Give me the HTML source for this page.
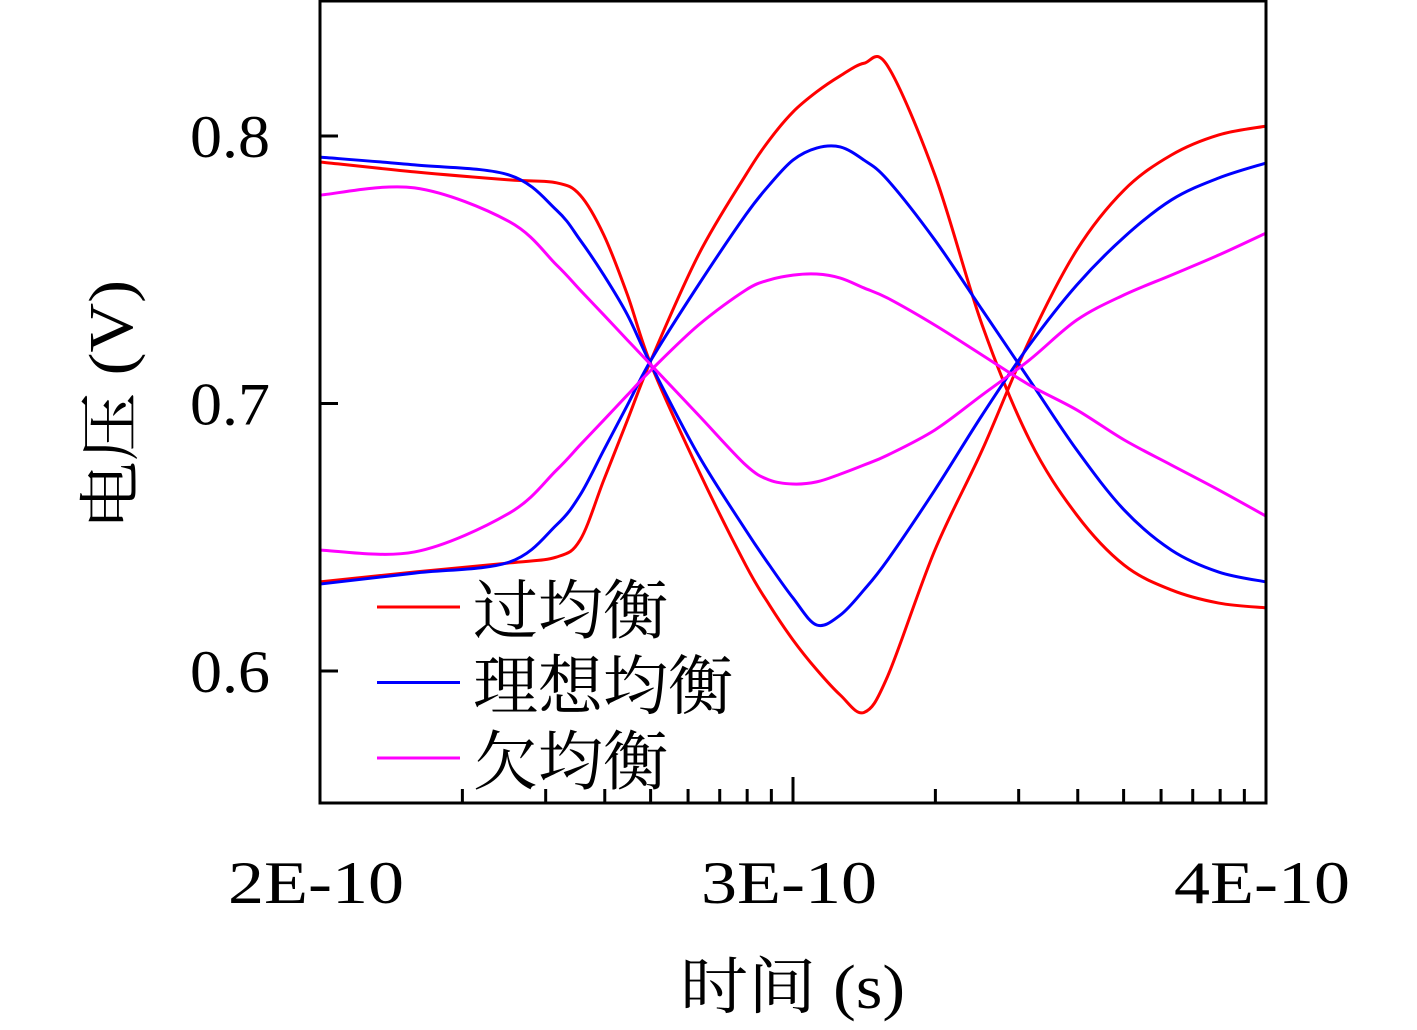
<!DOCTYPE html>
<html><head><meta charset="utf-8"><style>
body{margin:0;background:#fff}
svg text{font-family:"Liberation Serif","Noto Serif CJK SC",serif;fill:#000}
</style></head><body>
<svg id="chart" width="1417" height="1025" viewBox="0 0 1417 1025" xmlns="http://www.w3.org/2000/svg">
<g id="plot"></g>
<g id="axes"></g>
<g id="legend"></g>
</svg>
<script>
const times = [2.0,2.2,2.4,2.5,2.55,2.6,2.65,2.7,2.8,2.9,2.95,3.0,3.05,3.1,3.15,3.2,3.3,3.4,3.5,3.6,3.7,3.8,3.9,4.0];
const overA = [0.7903,0.7866,0.7836,0.7825,0.7779,0.7630,0.7406,0.7144,0.6751,0.6396,0.6247,0.6116,0.6005,0.5910,0.5845,0.5980,0.6452,0.6826,0.7237,0.7574,0.7798,0.7929,0.8004,0.8037];
const overB = [0.6333,0.6370,0.6404,0.6426,0.6490,0.6714,0.6938,0.7163,0.7555,0.7854,0.7985,0.8090,0.8165,0.8225,0.8272,0.8262,0.7854,0.7293,0.6864,0.6583,0.6396,0.6303,0.6254,0.6236];
const idealA = [0.7921,0.7892,0.7854,0.7723,0.7611,0.7480,0.7331,0.7144,0.6807,0.6527,0.6396,0.6273,0.6172,0.6209,0.6303,0.6415,0.6677,0.6957,0.7219,0.7443,0.7622,0.7761,0.7843,0.7899];
const idealB = [0.6325,0.6366,0.6407,0.6546,0.6658,0.6826,0.6994,0.7163,0.7443,0.7705,0.7817,0.7910,0.7955,0.7959,0.7910,0.7836,0.7611,0.7350,0.7088,0.6826,0.6602,0.6452,0.6370,0.6333];
const underA = [0.7779,0.7806,0.7680,0.7518,0.7424,0.7331,0.7237,0.7144,0.6957,0.6770,0.6714,0.6699,0.6707,0.6736,0.6770,0.6807,0.6901,0.7032,0.7163,0.7312,0.7406,0.7480,0.7555,0.7637];
const underB = [0.6452,0.6445,0.6590,0.6751,0.6845,0.6938,0.7032,0.7125,0.7293,0.7424,0.7462,0.7480,0.7484,0.7469,0.7432,0.7394,0.7293,0.7181,0.7069,0.6976,0.6864,0.6770,0.6677,0.6579];
const yTicks = [0.6,0.7,0.8];
const yTickLabels = ["0.6","0.7","0.8"];
const xTicks = [2,3,4];
const xTickLabels = ["2E-10","3E-10","4E-10"];
const legendLabels = ["过均衡","理想均衡","欠均衡"];

const L=320,R=1266,T=0,B=803;
const xs = t => L+(t-2)/2*(R-L);
const ys = v => 136+(0.8-v)*2675;
const NS="http://www.w3.org/2000/svg";
function mk(tag,attrs,parent){const e=document.createElementNS(NS,tag);for(const k in attrs)e.setAttribute(k,attrs[k]);parent.appendChild(e);return e;}
const plot=document.getElementById('plot'),axes=document.getElementById('axes'),legend=document.getElementById('legend');
function pathFor(vals){
  const p=times.map((t,i)=>[xs(t),ys(vals[i])]);
  let d=`M${p[0][0]},${p[0][1]}`;
  for(let i=0;i<p.length-1;i++){
    const p0=p[i-1]||p[i],p1=p[i],p2=p[i+1],p3=p[i+2]||p[i+1];
    const c1=[p1[0]+(p2[0]-p0[0])/6,p1[1]+(p2[1]-p0[1])/6];
    const c2=[p2[0]-(p3[0]-p1[0])/6,p2[1]-(p3[1]-p1[1])/6];
    d+=` C${c1[0]},${c1[1]} ${c2[0]},${c2[1]} ${p2[0]},${p2[1]}`;
  }
  return d;
}
const series=[[overA,'#ff0000','over-eq-high'],[overB,'#ff0000','over-eq-low'],[idealA,'#0000ff','ideal-eq-high'],[idealB,'#0000ff','ideal-eq-low'],[underA,'#ff00ff','under-eq-high'],[underB,'#ff00ff','under-eq-low']];
series.forEach(s=>{
  const e=mk('path',{d:pathFor(s[0]),fill:'none',stroke:s[1],'stroke-width':3},plot);
  
  
});
const fr=mk('rect',{x:L,y:T+1,width:R-L,height:B-T-1,fill:'none',stroke:'#000','stroke-width':3},axes);


yTicks.forEach((v,i)=>{
  const tk=mk('line',{x1:L,x2:L+18,y1:ys(v),y2:ys(v),stroke:'#000','stroke-width':3},axes);
  
  
  const tx=mk('text',{x:190,y:ys(v)+21,'font-size':60,textLength:80,lengthAdjust:'spacingAndGlyphs'},axes);
  tx.textContent=yTickLabels[i];
  
  
});
xTicks.forEach((t,i)=>{
  const tk=mk('line',{x1:xs(t),x2:xs(t),y1:B,y2:B-26,stroke:'#000','stroke-width':3},axes);
  
  
  const tx=mk('text',{x:xs(t)-92,y:903,'font-size':60,textLength:176,lengthAdjust:'spacingAndGlyphs'},axes);
  tx.textContent=xTickLabels[i];
  
  
});
[[2,3],[3,4]].forEach(([a,b])=>{
  for(let k=2;k<=9;k++){
    const x=xs(a)+Math.log10(k)*(xs(b)-xs(a));
    const tk=mk('line',{x1:x,x2:x,y1:B,y2:B-14,stroke:'#000','stroke-width':3},axes);
    
    
  }
});
const xt=mk('text',{x:680,y:1008,'font-size':62,textLength:225,lengthAdjust:'spacingAndGlyphs'},axes);
xt.textContent='时间 (s)';


const yt=mk('text',{x:-125,y:0,'font-size':62,textLength:250,lengthAdjust:'spacingAndGlyphs',transform:'translate(132,405) rotate(-90)'},axes);
yt.textContent='电压 (V)';


const lc=['#ff0000','#0000ff','#ff00ff'];
legendLabels.forEach((lab,i)=>{
  const y=607+i*75.5;
  const g=mk('g',{},legend);
  
  
  mk('line',{x1:377,x2:460,y1:y,y2:y,stroke:lc[i],'stroke-width':3},g);
  const tx=mk('text',{x:473,y:y+26,'font-size':65},g);
  tx.textContent=lab;
});
</script>
</body></html>
